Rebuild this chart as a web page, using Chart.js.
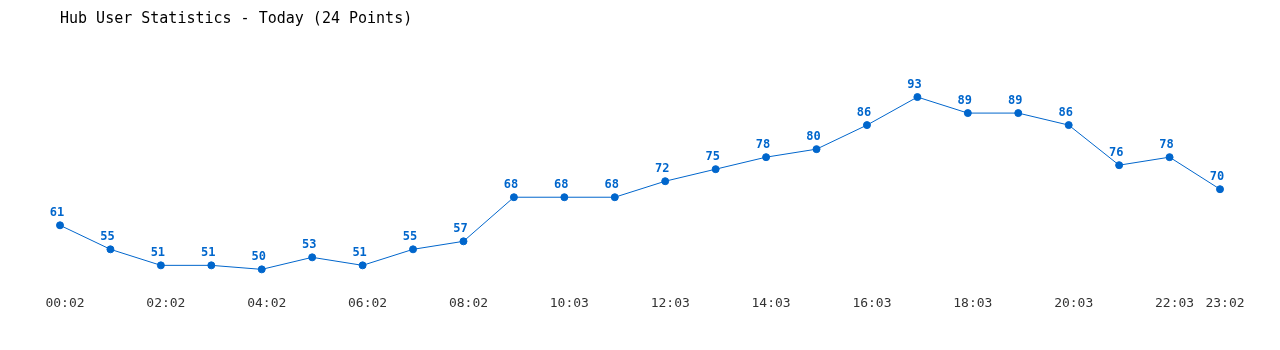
<!DOCTYPE html>
<html>
<head>
<meta charset="utf-8">
<script src="https://cdn.jsdelivr.net/npm/chart.js@4/dist/chart.umd.min.js"></script>
<style>
html,body{margin:0;padding:0;background:#fff;}
#wrap{width:1280px;height:350px;}
</style>
</head>
<body>
<div id="wrap"><canvas id="c" width="1280" height="350"></canvas></div>
<script>
const titleText = "Hub User Statistics - Today (24 Points)";
const categories = ["00:02","01:02","02:02","03:02","04:02","05:02","06:02","07:02","08:02","09:03","10:03","11:03","12:03","13:03","14:03","15:03","16:03","17:03","18:03","19:03","20:03","21:03","22:03","23:02"];
const users = [61,55,51,51,50,53,51,55,57,68,68,68,72,75,78,80,86,93,89,89,86,76,78,70];
const yMin = 45;
const yMax = 100;

const FONT = "'DejaVu Sans Mono', 'Liberation Mono', monospace";
const BLUE = "#0066cc";

const valueLabels = {
  id: 'valueLabels',
  afterDatasetsDraw(chart) {
    const ctx = chart.ctx;
    const meta = chart.getDatasetMeta(0);
    ctx.save();
    ctx.font = "bold 12px " + FONT;
    ctx.fillStyle = BLUE;
    ctx.textAlign = 'center';
    ctx.textBaseline = 'bottom';
    meta.data.forEach((pt, i) => {
      ctx.fillText(String(chart.data.datasets[0].data[i]), pt.x - 3, pt.y - 6);
    });
    ctx.restore();
  }
};

new Chart(document.getElementById('c'), {
  type: 'line',
  data: {
    labels: categories,
    datasets: [{
      data: users,
      borderColor: BLUE,
      backgroundColor: BLUE,
      borderWidth: 1,
      pointRadius: 3.5,
      pointHoverRadius: 3.5,
      pointBackgroundColor: BLUE,
      pointBorderColor: BLUE,
      tension: 0,
      fill: false
    }]
  },
  options: {
    responsive: false,
    animation: false,
    devicePixelRatio: 1,
    layout: { padding: { left: 60, right: 60, top: 0, bottom: 33 } },
    plugins: {
      legend: { display: false },
      tooltip: { enabled: false },
      title: {
        display: true,
        text: titleText,
        align: 'start',
        color: '#000',
        font: { family: FONT, size: 15, weight: 'normal' },
        padding: { top: 10, bottom: 41 }
      }
    },
    scales: {
      x: {
        offset: false,
        grid: { display: false, drawTicks: false },
        border: { display: false },
        ticks: {
          autoSkip: false,
          maxRotation: 0,
          padding: 6,
          labelOffset: 5,
          color: '#333',
          font: { family: FONT, size: 13 },
          callback: function(v, i) { return (i % 2 === 0 || i === categories.length - 1) ? categories[i] : ''; }
        }
      },
      y: {
        display: false,
        min: yMin,
        max: yMax
      }
    }
  },
  plugins: [valueLabels]
});
</script>
</body>
</html>
